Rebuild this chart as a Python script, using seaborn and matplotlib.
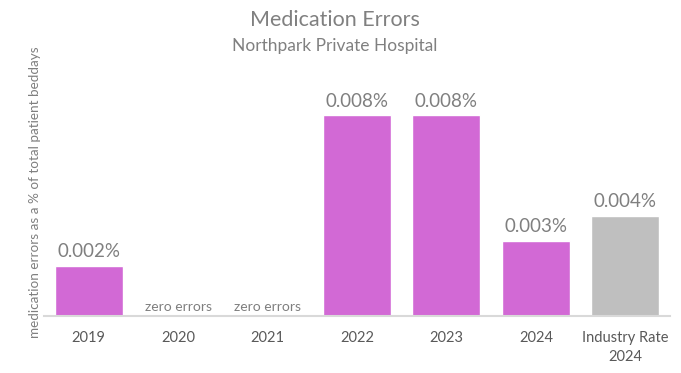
import matplotlib
matplotlib.use("Agg")
import matplotlib.pyplot as plt
import seaborn as sns
import pandas as pd

categories = ["2019", "2020", "2021", "2022", "2023", "2024", "Industry Rate\n2024"]
values = [0.002, 0.0, 0.0, 0.008, 0.008, 0.003, 0.004]
bar_colors = ["#D269D5", "#D269D5", "#D269D5", "#D269D5", "#D269D5", "#D269D5", "#BFBFBF"]
value_labels = ["0.002%", "zero errors", "zero errors", "0.008%", "0.008%", "0.003%", "0.004%"]

sns.set_theme(style="white")
plt.rcParams["font.family"] = ["Lato", "DejaVu Sans"]

df = pd.DataFrame({"category": categories, "value": values})

fig = plt.figure(figsize=(6.81, 3.73), dpi=100)
ax = fig.add_axes([44 / 681, 57 / 373, 626 / 681, 226 / 373])

sns.barplot(data=df, x="category", y="value", hue="category",
            palette=dict(zip(categories, bar_colors)), legend=False,
            width=0.76, saturation=1, ax=ax)

ax.set_ylim(0, 0.009)
ax.set_xlim(-0.5, len(categories) - 0.5)
ax.set_yticks([])
ax.set_xlabel("")
ax.set_ylabel("")
for s in ["top", "right", "left"]:
    ax.spines[s].set_visible(False)
ax.spines["bottom"].set_color("#D9D9D9")
ax.spines["bottom"].set_linewidth(1.5)
ax.tick_params(axis="x", length=0, pad=11, labelsize=10.5, labelcolor="#595959")
for t in ax.get_xticklabels():
    t.set_linespacing(1.45)

for i, (v, lab) in enumerate(zip(values, value_labels)):
    if v == 0:
        ax.text(i, 0.00012, lab, ha="center", va="bottom", fontsize=10, color="#7F7F7F")
    else:
        ax.text(i, v + 0.00022, lab, ha="center", va="bottom", fontsize=13.5, color="#7F7F7F")

fig.text(0.492, 1 - 20 / 373, "Medication Errors", ha="center", va="center",
         fontsize=15.5, color="#808080", fontweight="normal")
fig.text(0.492, 1 - 46 / 373, "Northpark Private Hospital", ha="center", va="center",
         fontsize=12.5, color="#808080", fontweight="normal")
fig.text(35 / 681, 1 - 192 / 373, "medication errors as a % of total patient beddays",
         rotation=90, ha="center", va="center", fontsize=9.7, color="#7F7F7F")

fig.savefig("out.png", dpi=100, facecolor="white")
